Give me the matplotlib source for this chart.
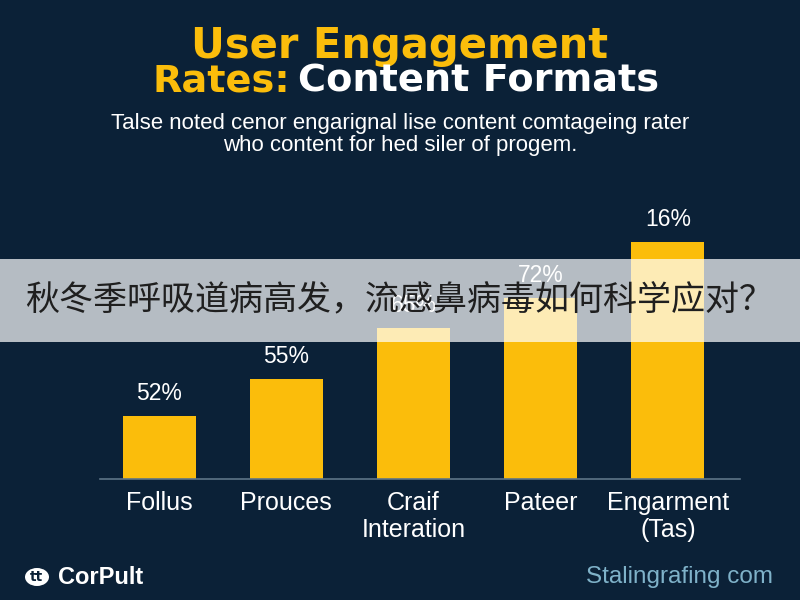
import matplotlib
matplotlib.use("Agg")
import matplotlib.pyplot as plt
from matplotlib.patches import Rectangle, Circle

# data (bar heights as % of the tallest bar)
categories = ["Follus", "Prouces", "Craif\nInteration", "Pateer", "Engarment\n(Tas)"]
values = [26.6, 42.2, 63.7, 76.4, 100.0]
value_labels = ["52%", "55%", "65%", "72%", "16%"]

title_1 = "User Engagement"
title_2a = "Rates:"
title_2b = "Content Formats"
subtitle_1 = "Talse noted cenor engarignal lise content comtageing rater"
subtitle_2 = "who content for hed siler of progem."
banner = "秋冬季呼吸道病高发，流感鼻病毒如何科学应对？"
brand = "CorPult"
site = "Stalingrafing com"

bg = "#0b2137"
yellow = "#fbbd0b"

fig = plt.figure(figsize=(8, 6), dpi=100)
fig.patch.set_facecolor(bg)

ax = fig.add_axes([0.125, 0.2017, 0.8, 0.465])
ax.set_facecolor(bg)
x = list(range(len(categories)))
bars = ax.bar(x, values, width=0.575, color=yellow, zorder=2)
for b, lab in zip(bars, value_labels):
    ax.text(b.get_x() + b.get_width() / 2, b.get_height() + 4.5, lab,
            ha="center", va="bottom", color="white", fontsize=16.5,
            family="Liberation Sans")
ax.set_xlim(-0.465, 4.567)
ax.set_ylim(0, 117.7)
for s in ["top", "right", "left"]:
    ax.spines[s].set_visible(False)
ax.spines["bottom"].set_color("#5d7487")
ax.spines["bottom"].set_linewidth(1.2)
ax.set_yticks([])
ax.set_xticks(x)
ax.set_xticklabels(categories, color="white", fontsize=18, family="Liberation Sans",
                   linespacing=1.15, va="top")
ax.tick_params(axis="x", length=0, pad=9)

# title
fig.text(0.5, 1 - 46 / 600, title_1, ha="center", va="center", color=yellow,
         fontsize=30, fontweight="bold", family="DejaVu Sans")
fig.text(290 / 800, 1 - 81 / 600, title_2a, ha="right", va="center", color=yellow,
         fontsize=27.5, fontweight="bold", family="DejaVu Sans")
fig.text(298 / 800, 1 - 81 / 600, title_2b, ha="left", va="center", color="white",
         fontsize=27.5, fontweight="bold", family="DejaVu Sans")

fig.text(0.5, 1 - 123 / 600, subtitle_1, ha="center", va="center", color="white",
         fontsize=16, family="Liberation Sans")
fig.text(0.5, 1 - 145 / 600, subtitle_2, ha="center", va="center", color="white",
         fontsize=16, family="Liberation Sans")

# translucent banner across the chart
fig.patches.append(Rectangle((0, 1 - 342 / 600), 1, 83 / 600, transform=fig.transFigure,
                             facecolor="white", alpha=0.7, edgecolor="none", zorder=5))
fig.text(25 / 800, 1 - 301 / 600, banner, ha="left", va="center", color="#1f1f1f",
         fontsize=24.5, family=["Noto Sans CJK SC", "DejaVu Sans"], zorder=6)

# footer
fig.patches.append(Circle((37 / 800, 1 - 577 / 600), 12 / 800, transform=fig.transFigure,
                          facecolor="white", edgecolor="none"))
fig.text(37 / 800, 1 - 577 / 600, "tt", ha="center", va="center", color=bg,
         fontsize=10, fontweight="bold")
fig.text(58 / 800, 1 - 577 / 600, brand, ha="left", va="center", color="white",
         fontsize=17, fontweight="bold", family="Liberation Sans")
fig.text(773 / 800, 1 - 577 / 600, site, ha="right", va="center", color="#7fb2c9",
         fontsize=17.5, family="Liberation Sans")

fig.savefig("out.png", dpi=100, facecolor=bg)
